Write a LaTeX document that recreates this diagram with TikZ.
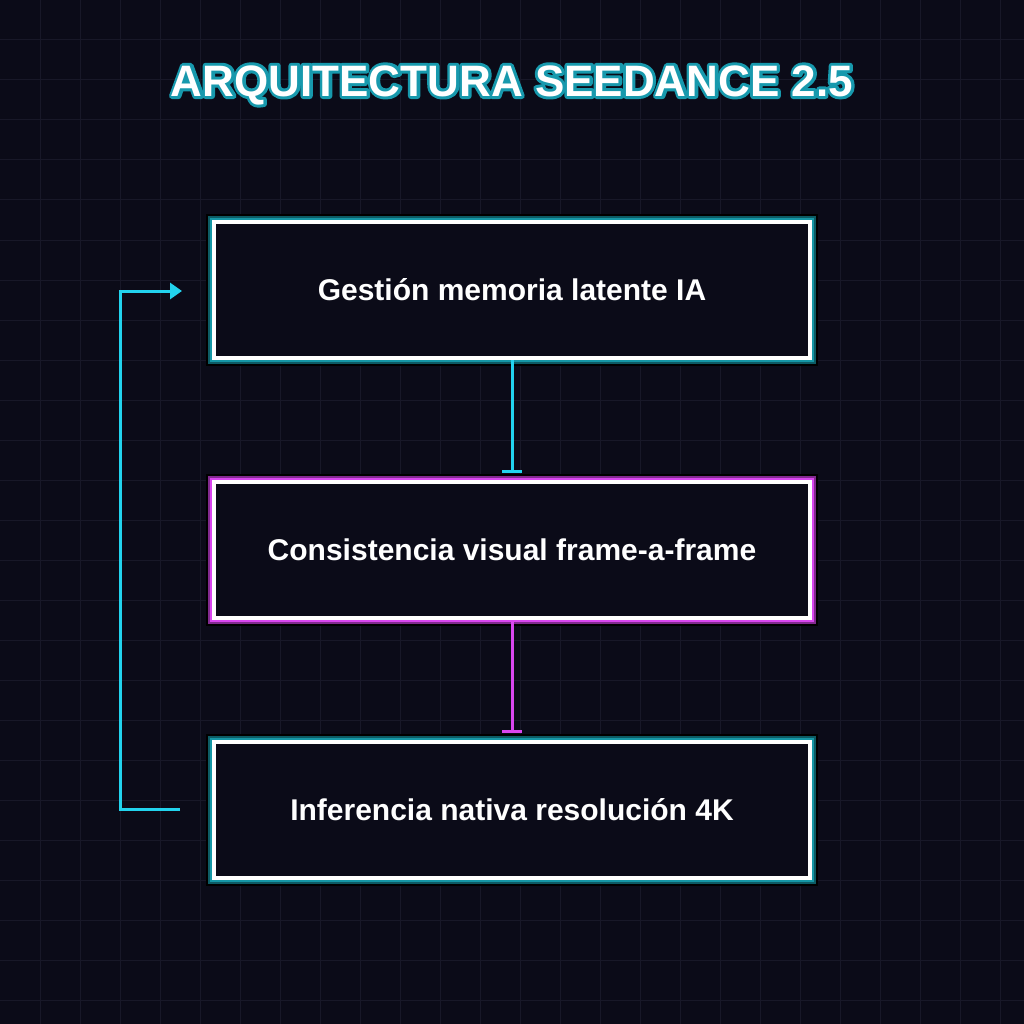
\documentclass[tikz,border=0pt]{standalone}
\usepackage{fontspec}
\setmainfont{Liberation Sans}
\usetikzlibrary{arrows.meta}
\definecolor{bg}{HTML}{0B0B18}
\definecolor{gridc}{HTML}{181828}
\definecolor{cyanc}{HTML}{22D3EE}
\definecolor{tealc}{HTML}{1597A6}
\definecolor{magc}{HTML}{D946EF}
\tikzset{
 box/.style={draw=white,line width=4pt,minimum width=596pt,minimum height=136pt,fill=bg,text=white,font=\bfseries\fontsize{30}{34}\selectfont,
  preaction={draw=black,line width=16pt},
  preaction={draw=#1!60!black,line width=12pt},
  preaction={draw=#1,line width=8pt}},
 conn/.style={line width=3pt,draw=#1,-{Bar[width=20pt,line width=3pt]}},
 ttl/.style={font=\bfseries\fontsize{44}{50}\selectfont},
}
\newcommand\outlined[1]{\rlap{\special{pdf:literal direct 1 Tr 6 w 1 J 1 j 0.09 0.6 0.68 RG}#1\special{pdf:literal direct 0 Tr}}#1}
\begin{document}
\begin{tikzpicture}[x=1pt,y=-1pt]
\fill[bg] (0,0) rectangle (1024,1024);
\useasboundingbox (0,0) rectangle (1024,1024);
\foreach \i in {40,80,...,1000}{
 \draw[gridc,line width=1pt] (\i,0) -- (\i,1024);
 \draw[gridc,line width=1pt] (0,\i) -- (1024,\i);
}
\node (title) [text=white,ttl] at (512,85) {\outlined{ARQUITECTURA SEEDANCE 2.5}};
\node[box=tealc] (b1) at (512,290) {Gestión memoria latente IA};
\node[box=magc] (b2) at (512,550) {Consistencia visual frame-a-frame};
\node[box=tealc] (b3) at (512,810) {Inferencia nativa resolución 4K};
\draw[conn=cyanc] (b1.south) -- ([yshift=7pt]b2.north);
\draw[conn=magc] (b2.south) -- ([yshift=7pt]b3.north);
\coordinate (s) at (180,809);
\coordinate (e) at (182,291);
\draw[cyanc,line width=3pt,-{Triangle[length=12pt,width=16pt]}] (s) -- (120,809) -- (120,291) -- (e);
\end{tikzpicture}
\end{document}
